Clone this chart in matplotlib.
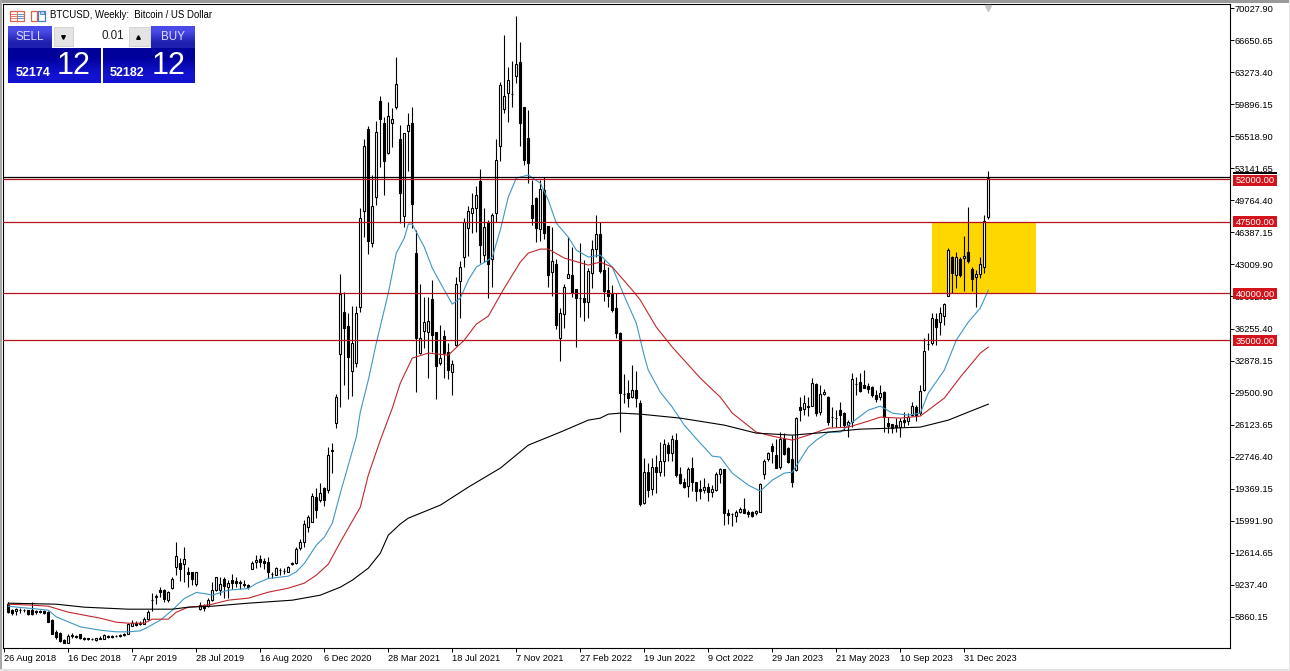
import matplotlib

matplotlib.use("Agg")
import matplotlib.pyplot as plt
import numpy as np
from matplotlib.patches import Rectangle

plt.rcParams["font.family"] = ["Liberation Sans", "DejaVu Sans"]

# weekly candles
opens = [
    7279, 6647, 6506, 6647, 6577, 6577, 6577, 6506, 6506, 6506,
    6401, 5593, 4293, 4223, 3485, 3169, 3942, 3907, 4047, 3696,
    3600, 3570, 3415, 3591, 3556, 3907, 3907, 3880, 3950, 4047,
    4118, 4961, 5242, 5100, 5172, 5663, 7631, 7960, 8755, 8755,
    7631, 8931, 11074, 11495, 11425, 10617, 10547, 9387, 6753, 7104,
    6998, 7631, 8755, 8685, 9809, 9036, 9738, 9668, 9500, 9387,
    9212, 10968, 11670, 11917, 11706, 11672, 10400, 10267, 10760, 10724,
    10618, 11490, 11497, 13077, 13780, 15361, 15888, 18522, 18171, 19401,
    19225, 23441, 26321, 33561, 37953, 36512, 31805, 32648, 38480, 48667,
    57239, 45225, 50073, 60225, 57871, 54780, 57942, 59558, 56220, 48105,
    57028, 57871, 44171, 33702, 36021, 35915, 39323, 35845, 32578, 35494,
    33807, 31629, 34510, 41255, 43820, 46805, 48386, 48913, 51794, 44005,
    47508, 43574, 48456, 55483, 59418, 61104, 60930, 62860, 64336, 59558,
    56291, 49265, 49968, 46701, 50846, 47052, 42239, 43012, 35283, 37742,
    41607, 41888, 40377, 39500, 39429, 39078, 42134, 44592, 46173, 42415,
    40307, 39885, 38375, 35807, 29340, 29414, 28992, 29765, 28360, 17821,
    21158, 19296, 21685, 21158, 22317, 23968, 23160, 24495, 20912, 20069,
    19647, 21509, 20105, 19296, 19226, 19507, 19050, 19226, 20912, 21404,
    16767, 16660, 16521, 16907, 17188, 16907, 16872, 16767, 16942, 20877,
    22528, 23863, 22914, 21685, 24601, 23617, 22458, 21334, 27938, 27727,
    28079, 28114, 30397, 27482, 29308, 29062, 26960, 26850, 27657, 27305,
    26076, 26427, 30400, 30643, 30292, 30186, 30116, 29238, 28992, 29519,
    26252, 26181, 26076, 25830, 26603, 26532, 27130, 28008, 27305, 29766,
    34620, 34685, 37214, 36968, 37601, 39708, 43818, 41886, 43608, 43643,
    44345, 42484, 41711, 41956, 42694, 48034,
]
highs = [
    7455, 6717, 6858, 6788, 6682, 6647, 7455, 6647, 6577, 6647,
    6506, 5663, 4469, 4293, 3556, 4118, 4188, 3977, 4118, 3767,
    3696, 3661, 3696, 3837, 4047, 3977, 3942, 3977, 4082, 4188,
    5242, 5523, 5453, 5418, 5874, 6577, 8404, 8263, 9036, 8860,
    8579, 10020, 13779, 12022, 13181, 11144, 10617, 10617, 7455, 7280,
    7807, 9563, 10090, 10020, 10020, 9738, 10441, 10020, 9738, 9738,
    9387, 11776, 12373, 12373, 12022, 12199, 10618, 11075, 10970, 10970,
    11215, 11672, 13253, 14026, 16063, 16590, 18874, 19401, 19928, 19576,
    23792, 24143, 29343, 41993, 40061, 37847, 38620, 38620, 48913, 56185,
    57590, 52426, 58152, 60752, 58574, 60155, 59452, 64827, 57696, 56888,
    58925, 59558, 46630, 40939, 39534, 39534, 41360, 35915, 36618, 36090,
    34686, 32929, 41641, 43398, 47859, 49159, 50494, 51267, 53023, 48913,
    47684, 48386, 56185, 62263, 67181, 63844, 64441, 69184, 66479, 59558,
    59277, 51900, 50143, 51900, 52181, 47052, 46982, 43539, 38375, 40939,
    45928, 44803, 40377, 45295, 43469, 42590, 45576, 48211, 47509, 43469,
    42766, 40834, 39956, 35913, 31451, 30819, 32400, 31802, 28711, 22563,
    22036, 22563, 22915, 24320, 24566, 24320, 25022, 25198, 21685, 20456,
    21685, 22739, 20105, 20280, 20456, 19928, 19753, 21158, 21509, 21404,
    17188, 16837, 17118, 17470, 18347, 17118, 17048, 17118, 19999, 22458,
    23266, 24215, 24566, 25374, 25268, 23793, 25022, 26955, 29062, 29238,
    29062, 30994, 30468, 30292, 29835, 29132, 28008, 27657, 28535, 27481,
    26603, 31521, 31170, 31591, 31872, 30467, 30186, 29765, 30292, 29659,
    26954, 26181, 26779, 26779, 27481, 27305, 28535, 28184, 30292, 35212,
    35808, 37916, 37916, 38549, 38970, 44697, 43889, 44345, 43748, 45996,
    49088, 42765, 42413, 43818, 48210, 52847,
]
lows = [
    6296, 6120, 6050, 6296, 6401, 6050, 6120, 6226, 6296, 6155,
    5312, 4047, 3591, 3275, 3099, 3134, 3696, 3696, 3556, 3485,
    3450, 3415, 3380, 3520, 3520, 3696, 3661, 3767, 3802, 3872,
    4082, 4891, 4926, 5031, 5101, 5593, 6506, 7280, 7982, 7455,
    7455, 8860, 10265, 9668, 9563, 9036, 9212, 9106, 6647, 6506,
    6928, 7561, 8614, 8158, 7912, 7912, 8860, 8966, 8860, 9036,
    8860, 10898, 11038, 11074, 10968, 9916, 9916, 10232, 10267, 10372,
    10583, 11286, 11426, 12902, 13253, 14834, 15818, 16239, 17995, 17539,
    18944, 20982, 25794, 28011, 30294, 28784, 29135, 32226, 38023, 45857,
    44100, 44873, 49265, 53234, 50318, 54639, 55412, 59347, 47332, 46981,
    52883, 46805, 29592, 33561, 34159, 30997, 33807, 28784, 32402, 30997,
    30892, 29240, 34405, 37320, 42765, 43890, 46278, 46454, 43117, 43293,
    39428, 40658, 47508, 53937, 58926, 58047, 59628, 62158, 55483, 53481,
    51619, 47157, 45401, 45506, 45646, 40658, 39675, 36161, 32859, 36267,
    41536, 39604, 34335, 37497, 37075, 37320, 40483, 43820, 42063, 39183,
    38550, 38024, 35213, 25374, 28360, 27938, 28887, 28009, 17575, 17750,
    18523, 18699, 18875, 20701, 20701, 22317, 22317, 20631, 19823, 19402,
    18523, 19155, 18067, 18242, 18945, 18102, 18523, 19155, 19999, 15537,
    15643, 15467, 15889, 16767, 16767, 16415, 16345, 16591, 16942, 20385,
    22317, 22036, 21509, 21404, 22914, 22036, 19577, 21229, 26533, 27130,
    27025, 28079, 27025, 27130, 29238, 26076, 25900, 25900, 25900, 25549,
    24776, 25900, 29238, 29589, 29940, 29413, 29062, 28535, 28711, 25373,
    25268, 25268, 25373, 24846, 25900, 26076, 27024, 26532, 27130, 29696,
    33982, 34509, 34509, 35563, 36617, 39708, 39954, 40481, 41710, 40235,
    43116, 40235, 38479, 41605, 42132, 47788,
]
closes = [
    6401, 6296, 6753, 6577, 6570, 6155, 6226, 6366, 6366, 6296,
    5347, 4118, 3767, 3345, 3134, 3872, 3900, 3767, 3626, 3591,
    3580, 3550, 3626, 3696, 3977, 3767, 3767, 3840, 3900, 3942,
    5101, 5242, 4996, 5242, 5699, 6366, 7700, 8050, 8474, 7806,
    8474, 9914, 12268, 10968, 11917, 10441, 9914, 10547, 7104, 6858,
    7631, 8755, 10020, 9317, 9106, 9458, 9458, 9458, 9460, 9212,
    9036, 11600, 11846, 11636, 11495, 10618, 10372, 10970, 10794, 10700,
    11145, 11530, 12972, 13780, 15642, 16415, 18593, 17117, 18874, 18171,
    22914, 23300, 28991, 39885, 36266, 33280, 34686, 37847, 47859, 55483,
    45506, 49159, 56958, 58363, 53937, 58644, 58293, 62017, 50494, 56818,
    57661, 49370, 35213, 35213, 36969, 37074, 35564, 32297, 33105, 33632,
    31875, 32472, 40904, 42695, 47508, 48667, 48913, 50318, 45084, 46981,
    43046, 48211, 54007, 61912, 60753, 62439, 60928, 64090, 57872, 54008,
    53656, 47930, 46877, 50916, 46279, 41888, 43363, 36618, 37848, 40588,
    41993, 39956, 39429, 39500, 39078, 42309, 44592, 46173, 42344, 40236,
    39710, 38199, 35740, 29414, 29343, 28957, 29765, 28887, 17750, 21158,
    19226, 21685, 21158, 22317, 24074, 23160, 24566, 20807, 19928, 19577,
    21404, 20105, 19155, 19155, 19507, 19050, 19296, 20912, 21404, 16837,
    16591, 16661, 16942, 17188, 16767, 16697, 16521, 17012, 19858, 22317,
    23090, 23371, 21580, 24566, 23020, 22142, 20105, 26849, 27657, 28360,
    27938, 30468, 27306, 29308, 29589, 26392, 26954, 26845, 27130, 26076,
    26427, 30889, 30397, 29694, 30010, 29835, 29238, 28816, 29413, 26954,
    25970, 25725, 25830, 26532, 26427, 26884, 28078, 27024, 29659, 33876,
    34614, 37319, 36441, 37846, 38830, 44521, 42132, 43748, 41886, 43924,
    43362, 41465, 41956, 43010, 47612, 52074,
]

# moving averages, read at the bends of each line
blue_bars = [0, 3, 6, 10, 12, 15, 18, 23, 27, 30, 33, 35, 38, 41, 44, 47, 50, 51, 55, 60,
             62, 65, 70, 72, 74, 77, 79, 81, 83, 85, 87, 88, 90, 92, 95, 97, 99, 100, 101, 102,
             104, 106, 109, 111, 113, 115, 117, 120, 121, 123, 125, 127, 130, 133, 135, 137, 140, 142, 145, 148,
             151, 154, 157, 159, 160, 163, 166, 169, 173, 176, 178, 181, 185, 188, 191, 194, 196, 200, 202, 205,
             208, 211, 215, 218, 221, 225, 228, 230, 234, 237, 240, 243, 245]
blue_vals = [6998, 6858, 6752, 6577, 5874, 5347, 4820, 4469, 4293, 4293, 4399, 4820, 5523, 6577, 7807, 8439, 8263, 8158, 8685, 8860,
             9387, 9914, 10160, 10617, 11495, 13427, 14270, 15744, 18908, 21859, 24810, 27445, 30818, 34718, 39988, 44204, 45785, 47260, 47260, 46417,
             44836, 42623, 40304, 38828, 39461, 41358, 42728, 43466, 43782, 46628, 50106, 52109, 52425, 51582, 49790, 47366, 45890, 44520, 43782, 43993,
             42728, 39672, 36826, 33348, 31872, 29553, 27972, 26075, 24178, 22808, 22702, 21016, 19751, 19119, 20278, 21016, 21121, 23756, 24494, 25337,
             25337, 26391, 27656, 28078, 27340, 27129, 27340, 29448, 31872, 35034, 36931, 38407, 40304]
red_bars = [0, 6, 10, 15, 19, 23, 27, 30, 34, 36, 40, 42, 45, 48, 51, 55, 60, 65, 70, 74,
            77, 80, 83, 88, 90, 93, 96, 98, 101, 105, 110, 114, 117, 120, 124, 128, 130, 133, 135, 139,
            145, 148, 151, 156, 158, 162, 166, 173, 178, 181, 187, 191, 196, 200, 205, 210, 215, 218, 223, 228,
            230, 234, 238, 243, 245]
red_vals = [7208, 7103, 6997, 6365, 6049, 5732, 5311, 5206, 5206, 5627, 5627, 6365, 6892, 6997, 7208, 7630, 7841, 8474, 8895, 9422,
            10265, 11424, 13743, 17432, 20805, 24494, 27867, 30502, 33137, 33664, 33453, 35034, 36720, 37564, 40515, 43255, 44204, 44625, 44625, 43677,
            42939, 43255, 42728, 40304, 39250, 36404, 34296, 31029, 29026, 27340, 25337, 24916, 24494, 25021, 25759, 25864, 26497, 26919, 26813, 27024,
            27656, 28921, 31134, 33664, 34296]
black_bars = [0, 12, 19, 30, 41, 45, 51, 60, 71, 78, 83, 86, 90, 93, 95, 98, 100, 108, 115, 123, 130, 138,
              145, 148, 150, 153, 158, 168, 179, 187, 196, 205, 213, 221, 228, 233, 235, 240, 245]
black_vals = [7314, 7208, 6892, 6681, 6681, 6892, 6997, 7314, 7630, 8157, 9000, 9738, 11000, 12584, 14481, 15660, 16273, 17643, 19540, 21543, 23967, 25337,
              26602, 26813, 27234, 27340, 27234, 26813, 26075, 25232, 25021, 25337, 25653, 25759, 25864, 26391, 26602, 27445, 28288]

levels = [52000, 47500, 40000, 35000]
last_price = 52174
zone_bars = [231, 257]
zone_prices = [40000, 47500]

price_ticks = [70027.90, 66650.65, 63273.40, 59896.15, 56518.90, 53141.65, 49764.40, 46387.15, 43009.90, 39632.65,
               36255.40, 32878.15, 29500.90, 26123.65, 22746.40, 19369.15, 15991.90, 12614.65, 9237.40, 5860.15]
date_labels = ["26 Aug 2018", "16 Dec 2018", "7 Apr 2019", "28 Jul 2019", "16 Aug 2020", "6 Dec 2020",
               "28 Mar 2021", "18 Jul 2021", "7 Nov 2021", "27 Feb 2022", "19 Jun 2022", "9 Oct 2022",
               "29 Jan 2023", "21 May 2023", "10 Sep 2023", "31 Dec 2023"]

W, H = 1290, 671
LEFT, RIGHT, TOP, BOTTOM = 3, 1230, 4, 648

fig = plt.figure(figsize=(W / 100, H / 100), dpi=100, facecolor="white")
ax = fig.add_axes([LEFT / W, 1 - BOTTOM / H, (RIGHT - LEFT) / W, (BOTTOM - TOP) / H])

bars = np.arange(len(opens))
opens, highs, lows, closes = map(np.array, (opens, highs, lows, closes))

ax.add_patch(Rectangle((zone_bars[0], zone_prices[0]), zone_bars[1] - zone_bars[0],
                       zone_prices[1] - zone_prices[0], facecolor="#ffd700", edgecolor="none", zorder=1))

wicks = ax.vlines(bars, lows, highs, color="black", linewidth=0.8, zorder=2)
wicks.set_snap(True)
up = closes >= opens
ax.bar(bars[up], (closes - opens)[up], bottom=opens[up], width=0.55, facecolor="white",
       edgecolor="black", linewidth=0.8, zorder=3)
ax.bar(bars[~up], (opens - closes)[~up], bottom=closes[~up], width=0.55, facecolor="black",
       edgecolor="black", linewidth=0.8, zorder=3)

ax.plot(blue_bars, blue_vals, color="#3f96c4", linewidth=0.8, zorder=4)
ax.plot(red_bars, red_vals, color="#c0272d", linewidth=0.8, zorder=4)
ax.plot(black_bars, black_vals, color="black", linewidth=0.8, zorder=4)

for level in levels:
    ax.axhline(level, color="#b5121b", linewidth=0.9, zorder=5)
ax.axhline(last_price, color="black", linewidth=0.9, zorder=5)

# marker of the last bar on the top edge
ax.plot([bars[-1]], [70000], marker="v", markersize=5, color="#c4c4c4", clip_on=False, zorder=5)

ax.set_xlim((LEFT - 8.3) / 4, (RIGHT - 8.3) / 4)
ax.set_ylim(70027.90 - (BOTTOM - 8) * 105.37, 70027.90 + 4 * 105.37)

ax.set_xticks(np.arange(-1, 245, 16))
ax.set_xticklabels(date_labels, ha="left", fontsize=6.7, color="black")
ax.yaxis.tick_right()
ax.set_yticks(price_ticks)
ax.set_yticklabels(["%.2f" % t for t in price_ticks], fontsize=6.7, color="black")
ax.tick_params(axis="x", length=3, width=0.7, pad=1.5)
ax.tick_params(axis="y", length=3, width=0.7, pad=0.4)
for spine in ax.spines.values():
    spine.set_linewidth(0.8)

# overlay in pixels for the window furniture
ui = fig.add_axes([0, 0, 1, 1], facecolor="none")
ui.set_axis_off()


def gradient(x0, y0, x1, y1, top, bottom):
    c = np.array([matplotlib.colors.to_rgb(top), matplotlib.colors.to_rgb(bottom)])
    ui.imshow(c[:, None, :], extent=(x0, x1, y1, y0), aspect="auto", interpolation="bilinear", zorder=2)


def pixel_box(x0, y0, x1, y1, **kw):
    ui.add_patch(Rectangle((x0, y0), x1 - x0, y1 - y0, **kw))


# window edges
pixel_box(0, 0, W, 2.5, facecolor="#9a9a9a", edgecolor="none")
pixel_box(0, 0, 2, H, facecolor="#a8a8a8", edgecolor="none")
pixel_box(0, 669, W, H, facecolor="#e2e2e2", edgecolor="none")
pixel_box(1289, 0, W, H, facecolor="#e6e6e6", edgecolor="none")

# level labels on the price scale
for level, y in zip(levels, [180, 221.7, 293.5, 340.5]):
    pixel_box(1233, y - 5.5, 1277, y + 5.5, facecolor="#d3141c", edgecolor="none", zorder=3)
    ui.text(1255, y + 0.6, "%.2f" % level, color="white", fontsize=6.7, ha="center", va="center", zorder=4)
pixel_box(1233, 172, 1277, 173.5, facecolor="black", edgecolor="none", zorder=4)

# chart title and its icons
pixel_box(9.5, 10.5, 24, 20.5, facecolor="white", edgecolor="#d9604f", linewidth=0.9)
ui.plot([16.7, 16.7], [10.5, 20.5], color="#d9604f", linewidth=0.6)
for row in [13.5, 15.5, 17.5]:
    ui.plot([11, 16], [row, row], color="#d9604f", linewidth=0.6)
    ui.plot([18, 23], [row, row], color="#4a7fc0", linewidth=0.6)
pixel_box(30.5, 10.5, 37, 20.5, facecolor="white", edgecolor="#d9604f", linewidth=0.9)
pixel_box(38, 10.5, 45, 20.5, facecolor="white", edgecolor="#4a7fc0", linewidth=0.9)
pixel_box(40, 10.5, 43.5, 14, facecolor="#bcd4ee", edgecolor="#4a7fc0", linewidth=0.6)
ui.text(50.5, 15.5, "BTCUSD, Weekly:  Bitcoin / US Dollar", fontsize=6.9, color="black", va="center", zorder=4)

# one click trading panel
gradient(8, 26, 52, 48, "#4a4ae6", "#2020b0")
gradient(151, 26, 195, 48, "#4a4ae6", "#2020b0")
gradient(8, 48, 101, 83, "#00009a", "#1212d0")
gradient(103, 48, 195, 83, "#00009a", "#1212d0")
pixel_box(12, 47.5, 48, 48.2, facecolor="#9a9aee", edgecolor="none", zorder=3)
pixel_box(155, 47.5, 191, 48.2, facecolor="#9a9aee", edgecolor="none", zorder=3)
pixel_box(54, 27, 150, 46, facecolor="white", edgecolor="none", zorder=3)
pixel_box(54, 27, 73, 46, facecolor="#e4e4e4", edgecolor="#c8c8c8", linewidth=0.5, zorder=3)
pixel_box(129, 27, 150, 46, facecolor="#e4e4e4", edgecolor="#c8c8c8", linewidth=0.5, zorder=3)
ui.plot([63], [36.5], marker="v", markersize=2.6, color="black", zorder=4)
ui.plot([138], [36.5], marker="^", markersize=2.6, color="black", zorder=4)
ui.text(124, 36, "0.01", fontsize=8.4, color="#202020", ha="right", va="center", zorder=4)
ui.text(29.5, 36.5, "SELL", fontsize=8.4, color="#dcdcff", ha="center", va="center", zorder=4)
ui.text(172.5, 36.5, "BUY", fontsize=8.4, color="#dcdcff", ha="center", va="center", zorder=4)
ui.text(16, 73, "52174", fontsize=9, fontweight="bold", color="white", va="center", zorder=4)
ui.text(110, 73, "52182", fontsize=9, fontweight="bold", color="white", va="center", zorder=4)
ui.text(56.5, 66, "12", fontsize=22, color="white", va="center", zorder=4)
ui.text(151.5, 66, "12", fontsize=22, color="white", va="center", zorder=4)

ui.set_xlim(0, W)
ui.set_ylim(H, 0)

fig.savefig("out.png", dpi=100, facecolor="white")
